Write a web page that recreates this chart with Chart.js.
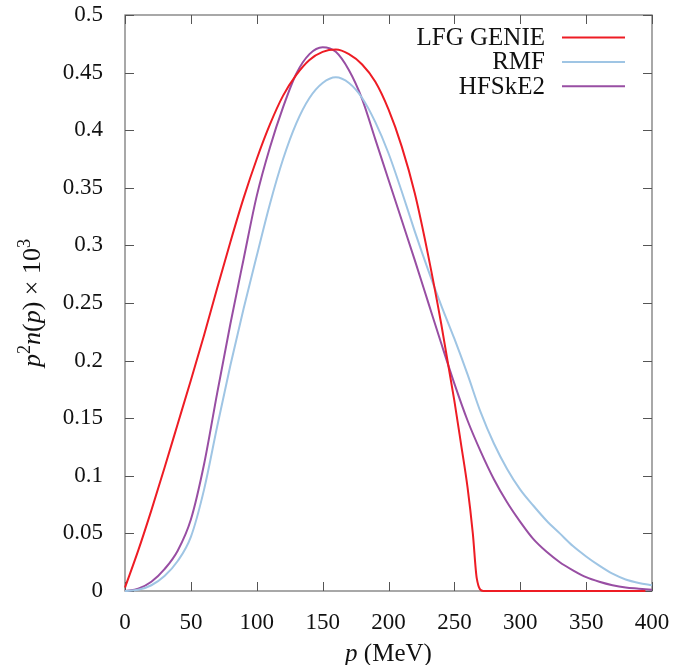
<!DOCTYPE html>
<html>
<head>
<meta charset="utf-8">
<script src="https://cdn.jsdelivr.net/npm/chart.js@4.4.1/dist/chart.umd.min.js"></script>
<style>
  html, body { margin: 0; padding: 0; background: #fff; }
  #wrap { width: 683px; height: 665px; }
</style>
</head>
<body>
<div id="wrap"><canvas id="momChart" width="683" height="665"></canvas></div>
<script>
// momentum grid (MeV)
const pGenie = [0,10,20,30,40,50,60,70,80,90,100,110,120,130,140,150,160,170,180,190,200,210,220,230,240,250,255,260,264,267,272,290,320,350,380,395];
const lfgGenie = [0.003,0.035,0.07,0.107,0.145,0.183,0.222,0.263,0.303,0.341,0.375,0.405,0.43,0.448,0.461,0.468,0.47,0.466,0.457,0.442,0.418,0.386,0.345,0.292,0.232,0.165,0.128,0.09,0.05,0.011,0,0,0,0,0,0];

const pGrid = [0,10,20,30,40,50,60,70,80,90,100,110,120,130,140,150,160,170,180,190,200,210,220,230,240,250,260,270,280,290,300,310,320,330,340,350,360,370,380,390,400];
const rmf = [0,0.001,0.005,0.013,0.026,0.047,0.088,0.143,0.196,0.245,0.291,0.336,0.375,0.406,0.428,0.441,0.446,0.441,0.428,0.407,0.38,0.347,0.312,0.279,0.248,0.219,0.188,0.155,0.128,0.106,0.088,0.074,0.061,0.05,0.039,0.03,0.022,0.015,0.01,0.007,0.005];
const hfske2 = [0,0.002,0.008,0.019,0.035,0.062,0.11,0.172,0.232,0.288,0.343,0.385,0.42,0.449,0.466,0.472,0.468,0.452,0.427,0.392,0.357,0.322,0.287,0.251,0.215,0.18,0.148,0.121,0.097,0.077,0.06,0.045,0.034,0.025,0.018,0.012,0.008,0.005,0.003,0.002,0.001];

const xTicks = [0,50,100,150,200,250,300,350,400];
const yTicks = [0,0.05,0.1,0.15,0.2,0.25,0.3,0.35,0.4,0.45,0.5];

function pts(xs, ys) {
    return xs.map((x, i) => ({ x: x, y: ys[i] }));
}

const serif = "'Liberation Serif', 'DejaVu Serif', serif";

// frame + inward ticks, drawn under the curves
const framePlugin = {
    id: 'frame',
    beforeDatasetsDraw(chart) {
        const { ctx, chartArea: a, scales } = chart;
        ctx.save();
        ctx.strokeStyle = '#7a7a7a';
        ctx.lineWidth = 1.3;
        ctx.strokeRect(a.left, a.top, a.right - a.left, a.bottom - a.top);
        ctx.strokeStyle = '#555';
        ctx.lineWidth = 1;
        const tl = 9;
        xTicks.forEach(v => {
            const x = Math.round(scales.x.getPixelForValue(v)) + 0.5;
            ctx.beginPath();
            ctx.moveTo(x, a.bottom); ctx.lineTo(x, a.bottom - tl);
            ctx.moveTo(x, a.top); ctx.lineTo(x, a.top + tl);
            ctx.stroke();
        });
        yTicks.forEach(v => {
            const y = Math.round(scales.y.getPixelForValue(v)) + 0.5;
            ctx.beginPath();
            ctx.moveTo(a.left, y); ctx.lineTo(a.left + tl, y);
            ctx.moveTo(a.right, y); ctx.lineTo(a.right - tl, y);
            ctx.stroke();
        });
        ctx.restore();
    }
};

// draw a run of text pieces, some italic
function richText(ctx, parts, x, y, size) {
    let w = 0;
    parts.forEach(p => {
        ctx.font = (p.it ? 'italic ' : '') + (p.sup ? size * 0.7 : size) + 'px ' + serif;
        w += ctx.measureText(p.t).width;
    });
    let cx = x - w / 2;
    parts.forEach(p => {
        const s = p.sup ? size * 0.7 : size;
        ctx.font = (p.it ? 'italic ' : '') + s + 'px ' + serif;
        ctx.fillText(p.t, cx, p.sup ? y - size * 0.4 : y);
        cx += ctx.measureText(p.t).width;
    });
}

const labelPlugin = {
    id: 'labels',
    afterDraw(chart) {
        const { ctx, chartArea: a } = chart;
        ctx.save();
        ctx.fillStyle = '#111';
        ctx.textBaseline = 'alphabetic';
        ctx.textAlign = 'left';
        // x title
        richText(ctx, [{ t: 'p', it: true }, { t: ' (MeV)' }], (a.left + a.right) / 2, 661, 25);
        // y title
        ctx.translate(40, (a.top + a.bottom) / 2);
        ctx.rotate(-Math.PI / 2);
        richText(ctx, [{ t: 'p', it: true }, { t: '2', sup: true }, { t: 'n', it: true }, { t: '(' }, { t: 'p', it: true }, { t: ') × 10' }, { t: '3', sup: true }], 0, 0, 26);
        ctx.restore();

        // legend: label right aligned, line sample on the right
        ctx.save();
        ctx.font = '25px ' + serif;
        ctx.textAlign = 'right';
        ctx.textBaseline = 'middle';
        chart.data.datasets.forEach((ds, i) => {
            const y = 37.5 + i * 24.4;
            ctx.fillStyle = '#111';
            ctx.fillText(ds.label, 545, y + 1);
            ctx.strokeStyle = ds.borderColor;
            ctx.lineWidth = 2;
            ctx.beginPath();
            ctx.moveTo(562, y); ctx.lineTo(625, y);
            ctx.stroke();
        });
        ctx.restore();
    }
};

new Chart(document.getElementById('momChart').getContext('2d'), {
    type: 'line',
    data: {
        datasets: [
            { label: 'LFG GENIE', data: pts(pGenie, lfgGenie), borderColor: '#ee1c24' },
            { label: 'RMF', data: pts(pGrid, rmf), borderColor: '#9fc5e4' },
            { label: 'HFSkE2', data: pts(pGrid, hfske2), borderColor: '#984ea3' }
        ]
    },
    options: {
        responsive: false,
        animation: false,
        layout: { padding: { left: 0, right: 31, top: 15, bottom: 0 } },
        elements: {
            point: { radius: 0 },
            line: { borderWidth: 2, cubicInterpolationMode: 'monotone', fill: false }
        },
        datasets: { line: { clip: 4 } },
        plugins: { legend: { display: false }, tooltip: { enabled: false } },
        scales: {
            x: {
                type: 'linear', min: 0, max: 400,
                afterBuildTicks(s) { s.ticks = xTicks.map(v => ({ value: v })); },
                afterFit(s) { s.height = 74; s.paddingLeft = 0; s.paddingRight = 0; },
                grid: { display: false },
                border: { display: false },
                ticks: { color: '#111', padding: 10, font: { family: serif, size: 23 }, maxRotation: 0 }
            },
            y: {
                min: 0, max: 0.5,
                afterBuildTicks(s) { s.ticks = yTicks.map(v => ({ value: v })); },
                afterFit(s) { s.width = 125; s.paddingTop = 0; s.paddingBottom = 0; },
                grid: { display: false },
                border: { display: false },
                ticks: {
                    color: '#111', padding: 14, font: { family: serif, size: 23 },
                    callback: v => String(+v.toFixed(2))
                }
            }
        }
    },
    plugins: [framePlugin, labelPlugin]
});
</script>
</body>
</html>
